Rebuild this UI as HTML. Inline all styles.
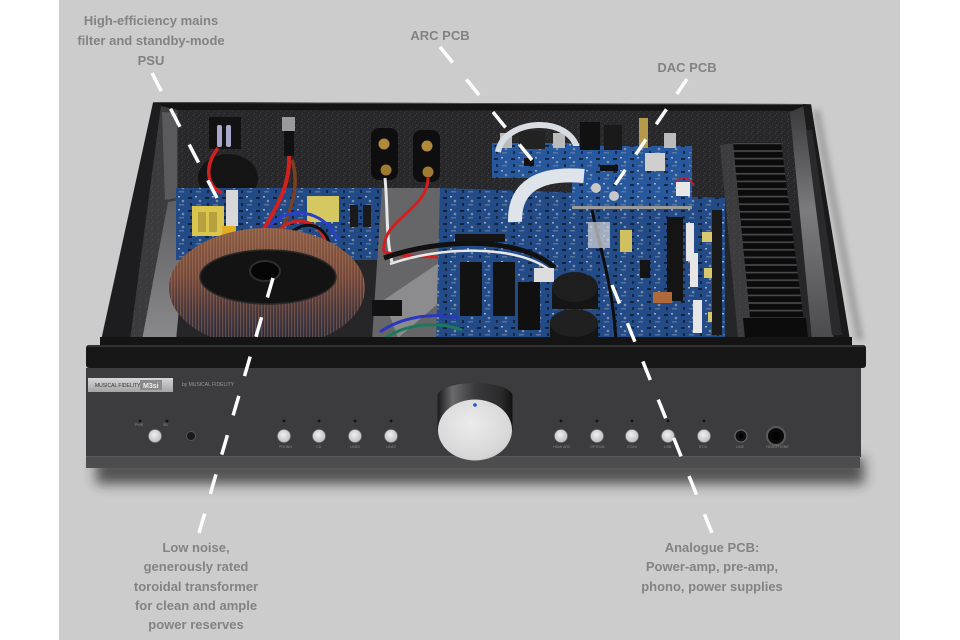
<!DOCTYPE html>
<html>
<head>
<meta charset="utf-8">
<style>
  html,body{margin:0;padding:0;background:#fff;}
  body{width:960px;height:640px;overflow:hidden;position:relative;}
  svg{position:absolute;left:0;top:0;}
  .lbl{font-family:"Liberation Sans",Arial,sans-serif;font-weight:bold;font-size:13px;fill:#838383;}
  .tiny{font-family:"Liberation Sans",Arial,sans-serif;font-size:3.6px;fill:#8a8a8a;}
</style>
</head>
<body>
<svg width="960" height="640" viewBox="0 0 960 640" xmlns="http://www.w3.org/2000/svg">
  <defs>
    <filter id="blur6" x="-20%" y="-100%" width="140%" height="300%"><feGaussianBlur stdDeviation="6"/></filter>
    <filter id="blur3" x="-20%" y="-20%" width="140%" height="140%"><feGaussianBlur stdDeviation="3"/></filter>
    <pattern id="fins" width="12" height="7.6" patternUnits="userSpaceOnUse">
      <rect width="12" height="7.6" fill="#0b0b0c"/>
      <rect y="5.8" width="12" height="1.6" fill="#4a4a4c"/>
    </pattern>
    <pattern id="comp" width="17" height="13" patternUnits="userSpaceOnUse">
      <rect x="1" y="2" width="4" height="2" fill="#111" opacity="0.7"/>
      <rect x="8" y="1" width="2" height="1.5" fill="#d8d8d8" opacity="0.7"/>
      <circle cx="13" cy="6" r="1.3" fill="#b8b8b8" opacity="0.6"/>
      <rect x="3" y="8" width="2" height="3" fill="#0e0e0e" opacity="0.6"/>
      <rect x="9" y="9" width="5" height="1.5" fill="#7a8aa8" opacity="0.6"/>
    </pattern>
    <pattern id="grain" width="6" height="6" patternUnits="userSpaceOnUse">
      <rect x="1" y="1" width="1" height="1" fill="#555" opacity="0.5"/>
      <rect x="4" y="3" width="1" height="1" fill="#444" opacity="0.5"/>
      <rect x="2" y="5" width="1" height="1" fill="#666" opacity="0.4"/>
    </pattern>
    <pattern id="wind" width="3" height="4" patternUnits="userSpaceOnUse">
      <rect width="1.2" height="4" fill="#c08a68" opacity="0.35"/>
    </pattern>
    <linearGradient id="rwall" x1="0" y1="0" x2="0" y2="1">
      <stop offset="0" stop-color="#3a3a3c"/>
      <stop offset="0.45" stop-color="#7c7c7e"/>
      <stop offset="1" stop-color="#4a4a4c"/>
    </linearGradient>
    <linearGradient id="lfloor" x1="0" y1="0" x2="0" y2="1">
      <stop offset="0" stop-color="#5e5e60"/>
      <stop offset="1" stop-color="#8a8a8c"/>
    </linearGradient>
    <linearGradient id="copper" x1="0" y1="0" x2="0" y2="1">
      <stop offset="0" stop-color="#8a5c44"/>
      <stop offset="0.4" stop-color="#74483a"/>
      <stop offset="0.7" stop-color="#43343a"/>
      <stop offset="1" stop-color="#23283a"/>
    </linearGradient>
    <linearGradient id="collar" x1="0" y1="0" x2="1" y2="0">
      <stop offset="0" stop-color="#1a1a1a"/>
      <stop offset="0.2" stop-color="#6a6a6c"/>
      <stop offset="0.5" stop-color="#3a3a3c"/>
      <stop offset="0.85" stop-color="#2a2a2a"/>
      <stop offset="1" stop-color="#111"/>
    </linearGradient>
    <radialGradient id="knobface" cx="0.45" cy="0.4" r="0.7">
      <stop offset="0" stop-color="#ececec"/>
      <stop offset="0.8" stop-color="#d6d6d6"/>
      <stop offset="1" stop-color="#b8b8b8"/>
    </radialGradient>
    <linearGradient id="plate" x1="0" y1="0" x2="0" y2="1">
      <stop offset="0" stop-color="#d6d6d6"/>
      <stop offset="1" stop-color="#a4a4a4"/>
    </linearGradient>
    <radialGradient id="btn" cx="0.45" cy="0.4" r="0.6">
      <stop offset="0" stop-color="#f0f0f0"/>
      <stop offset="1" stop-color="#bdbdbd"/>
    </radialGradient>
  </defs>

  <!-- background -->
  <rect x="0" y="0" width="960" height="640" fill="#ffffff"/>
  <rect x="59" y="0" width="841" height="640" fill="#cbcccb"/>

  <!-- shadows -->
  <rect x="96" y="458" width="768" height="26" fill="#2a2a2a" opacity="0.75" filter="url(#blur6)"/>
  <polygon points="812,110 856,340 864,340 820,110" fill="#555" opacity="0.35" filter="url(#blur3)"/>

  <!-- interior base -->
  <polygon points="153,103 811,105 850,345 100,345" fill="#262628"/>

  <!-- back rim -->
  <polygon points="153,102 811,104 812,111 156,110" fill="#141414"/>
  <line x1="153" y1="102.5" x2="811" y2="104.5" stroke="#4a4a4a" stroke-width="1"/>

  <!-- back wall -->
  <polygon points="160,110 805,111 800,210 170,210" fill="#28282a"/>
  <polygon points="160,110 805,111 800,210 170,210" fill="url(#grain)"/>

  <!-- left wall -->
  <polygon points="153,103 161,104 130,340 102,340" fill="#1d1d1f"/>
  <polygon points="161,106 178,110 178,200 168,204 142,340 130,340" fill="#3b3b3d"/>
  <polygon points="161,106 178,110 178,200 168,204 142,340 130,340" fill="url(#grain)"/>
  <polygon points="162,112 177,113 177,198 165,200" fill="#5a5a5c"/>
  <polygon points="168,202 190,198 176,340 142,340" fill="url(#lfloor)"/>

  <!-- right wall -->
  <polygon points="790,112 804,106 834,340 812,340" fill="url(#rwall)"/>
  <polygon points="803,104 811,105 850,340 834,340" fill="#1a1a1b"/>
  <polygon points="806,130 812,130 842,335 832,335" fill="#2a2a2c"/>

  <!-- heatsink -->
  <polygon points="720,145 736,143 755,338 738,338" fill="#3c3c3e"/>
  <polygon points="720,145 736,143 755,338 738,338" fill="url(#grain)"/>
  <polygon points="733,142 781,142 806,338 752,338" fill="url(#fins)"/>
  <polygon points="743,318 806,318 808,338 745,338" fill="#0c0c0c"/>

  <!-- back panel items -->
  <rect x="209" y="117" width="32" height="32" fill="#121212"/>
  <rect x="217" y="125" width="5" height="22" rx="2" fill="#a8a8cc"/>
  <rect x="226" y="125" width="5" height="22" rx="2" fill="#a8a8cc"/>
  <ellipse cx="228" cy="178" rx="30" ry="24" fill="#141414"/>
  <rect x="282" y="117" width="13" height="14" fill="#9a9a9a"/>
  <rect x="284" y="131" width="10" height="25" fill="#111"/>
  <rect x="371" y="128" width="27" height="52" rx="8" fill="#0e0e0e"/>
  <rect x="413" y="130" width="27" height="52" rx="8" fill="#0e0e0e"/>
  <circle cx="384" cy="144" r="5.5" fill="#b08a3a"/>
  <circle cx="386" cy="170" r="5.5" fill="#a07a30"/>
  <circle cx="427" cy="146" r="5.5" fill="#b08a3a"/>
  <circle cx="428" cy="172" r="5.5" fill="#a07a30"/>

  <!-- PSU board -->
  <rect x="176" y="188" width="206" height="72" fill="#224a86"/>
  <rect x="176" y="188" width="206" height="72" fill="url(#comp)"/>
  <rect x="192" y="206" width="32" height="30" fill="#d8c64e"/>
  <rect x="198" y="212" width="8" height="20" fill="#b8a040"/>
  <rect x="209" y="212" width="8" height="20" fill="#b8a040"/>
  <rect x="222" y="226" width="14" height="12" fill="#e0b020"/>
  <rect x="226" y="190" width="12" height="36" fill="#d8d8d8"/>
  <rect x="307" y="196" width="32" height="26" fill="#d6c860"/>
  <rect x="350" y="205" width="8" height="22" fill="#1a1a1a"/>
  <rect x="363" y="205" width="8" height="22" fill="#1a1a1a"/>

  <!-- wires near PSU -->
  <path d="M218 148 C 205 165, 205 185, 222 193" stroke="#d02020" stroke-width="3.5" fill="none"/>
  <path d="M289 156 C 290 185, 278 205, 262 232" stroke="#d02020" stroke-width="4" fill="none"/>
  <path d="M292 160 C 300 185, 292 210, 278 238" stroke="#7a4020" stroke-width="3.5" fill="none"/>
  <path d="M260 250 C 265 205, 320 200, 338 240" stroke="#2a40c8" stroke-width="3" fill="none"/>
  <path d="M270 250 C 275 215, 315 212, 325 240" stroke="#d02020" stroke-width="3" fill="none"/>
  <path d="M282 245 C 300 212, 330 225, 330 250" stroke="#101010" stroke-width="3" fill="none"/>

  <!-- middle floor -->
  <polygon points="382,188 440,188 440,340 372,340" fill="#666668"/>
  <polygon points="384,300 440,262 454,290 398,338" fill="#8c8c8e"/>
  <rect x="372" y="300" width="30" height="16" fill="#111"/>
  <path d="M385 178 C 388 210, 386 240, 392 262" stroke="#e8e8e8" stroke-width="3" fill="none"/>
  <path d="M428 178 C 428 210, 380 220, 384 252 C 420 262, 500 252, 540 262" stroke="#d02020" stroke-width="3" fill="none"/>

  <!-- main analogue board -->
  <polygon points="440,188 725,198 725,340 436,340" fill="#234b88"/>
  <polygon points="440,188 725,198 725,340 436,340" fill="url(#comp)"/>
  <rect x="455" y="234" width="50" height="8" fill="#151515"/>
  <path d="M384 258 C 440 238, 520 236, 555 268" stroke="#111" stroke-width="5" fill="none"/>
  <path d="M390 264 C 440 246, 520 244, 552 272" stroke="#e8e8e8" stroke-width="2.5" fill="none"/>
  <rect x="460" y="262" width="22" height="54" fill="#121212"/>
  <rect x="493" y="262" width="22" height="54" fill="#121212"/>
  <rect x="518" y="282" width="22" height="48" fill="#101010"/>
  <rect x="534" y="268" width="20" height="14" fill="#dcdcdc"/>
  <rect x="552" y="287" width="46" height="22" fill="#151515"/>
  <ellipse cx="575" cy="287" rx="23" ry="15" fill="#1e1e1e"/>
  <rect x="550" y="323" width="48" height="17" fill="#151515"/>
  <ellipse cx="574" cy="323" rx="24" ry="14" fill="#202020"/>
  <path d="M592 210 C 600 250, 612 280, 616 340" stroke="#0e0e0e" stroke-width="3" fill="none"/>
  <path d="M380 332 C 400 318, 430 312, 458 318" stroke="#2a38c0" stroke-width="3" fill="none"/>
  <path d="M385 338 C 410 322, 440 322, 462 330" stroke="#1a7a5a" stroke-width="3" fill="none"/>
  <rect x="588" y="222" width="22" height="26" fill="#d8d8d8" opacity="0.7"/>
  <rect x="620" y="230" width="12" height="22" fill="#d0c060"/>
  <rect x="640" y="260" width="10" height="18" fill="#141414"/>
  <!-- right component strip -->
  <rect x="667" y="217" width="16" height="84" fill="#141414"/>
  <rect x="686" y="223" width="8" height="38" fill="#e6e6e6"/>
  <rect x="690" y="253" width="8" height="34" fill="#e6e6e6"/>
  <rect x="693" y="300" width="9" height="33" fill="#e6e6e6"/>
  <rect x="702" y="232" width="11" height="10" fill="#d8c870"/>
  <rect x="704" y="268" width="10" height="10" fill="#d8c870"/>
  <rect x="708" y="312" width="11" height="10" fill="#d8c870"/>
  <rect x="653" y="292" width="19" height="11" fill="#b06a3a"/>
  <rect x="712" y="210" width="10" height="125" fill="#1a1a1a"/>

  <!-- ARC board -->
  <rect x="492" y="143" width="88" height="35" fill="#27579c"/>
  <rect x="492" y="143" width="88" height="35" fill="url(#comp)"/>
  <rect x="500" y="133" width="12" height="15" fill="#bbbbbb"/>
  <rect x="519" y="131" width="26" height="18" fill="#222"/>
  <rect x="553" y="133" width="12" height="15" fill="#bbbbbb"/>
  <rect x="524" y="158" width="10" height="8" fill="#111"/>
  <path d="M498 152 C 504 118, 572 114, 578 152" stroke="#d8dde4" stroke-width="6" fill="none"/>

  <!-- DAC board -->
  <rect x="572" y="146" width="120" height="62" fill="#27579c"/>
  <rect x="572" y="146" width="120" height="62" fill="url(#comp)"/>
  <rect x="572" y="206" width="120" height="3" fill="#9a9a9a"/>
  <rect x="580" y="122" width="20" height="28" fill="#111"/>
  <rect x="604" y="125" width="18" height="25" fill="#1a1a1a"/>
  <rect x="639" y="118" width="9" height="30" fill="#b59a4a"/>
  <rect x="664" y="133" width="12" height="15" fill="#bbbbbb"/>
  <rect x="645" y="153" width="20" height="18" fill="#cfcfcf"/>
  <rect x="600" y="165" width="18" height="6" fill="#111"/>
  <circle cx="596" cy="188" r="5" fill="#c8c8c8"/>
  <circle cx="614" cy="196" r="5" fill="#c8c8c8"/>
  <rect x="676" y="182" width="14" height="14" fill="#e8e8e8"/>
  <path d="M676 182 C 680 176, 690 176, 694 186" stroke="#d02020" stroke-width="1.5" fill="none"/>
  <path d="M515 222 C 514 186, 540 172, 584 176" stroke="#dfe3ea" stroke-width="14" fill="none"/>

  <!-- toroid -->
  <ellipse cx="267" cy="288" rx="98" ry="60" fill="url(#copper)"/>
  <ellipse cx="267" cy="288" rx="98" ry="60" fill="url(#wind)"/>
  <ellipse cx="268" cy="277" rx="68" ry="27" fill="#131313"/>
  <ellipse cx="268" cy="277" rx="68" ry="27" fill="none" stroke="#2a2a2a" stroke-width="1.5"/>
  <ellipse cx="265" cy="271" rx="15" ry="10" fill="#050505" stroke="#2e2e2e" stroke-width="2"/>

  <!-- front lip over interior -->
  <rect x="100" y="337" width="752" height="9" fill="#141414"/>

  <!-- front panel -->
  <rect x="86" y="345" width="780" height="23" rx="3" fill="#171718"/>
  <line x1="88" y1="346" x2="864" y2="346" stroke="#3a3a3a" stroke-width="1.5"/>
  <rect x="86" y="368" width="775" height="89" fill="#3c3c3e"/>
  <rect x="86" y="456" width="774" height="12" fill="#4d4d4f"/>
  <line x1="86" y1="456.5" x2="860" y2="456.5" stroke="#5a5a5c" stroke-width="1"/>

  <!-- logo -->
  <rect x="88" y="378" width="85" height="14" fill="url(#plate)"/>
  <text x="95" y="387" class="tiny" style="fill:#333;font-size:5px;">MUSICAL FIDELITY</text>
  <rect x="140" y="380" width="22" height="10" fill="#8a8a8a"/>
  <text x="143" y="388" class="tiny" style="fill:#eee;font-size:7px;font-weight:bold;">M3si</text>
  <text x="182" y="386" class="tiny" style="font-size:5px;fill:#9a9a9a;">by MUSICAL FIDELITY</text>

  <!-- knob -->
  <ellipse cx="475" cy="396" rx="37.5" ry="13" fill="url(#collar)"/>
  <rect x="437.5" y="396" width="75" height="34" fill="url(#collar)"/>
  <ellipse cx="475" cy="430" rx="37" ry="30.5" fill="url(#knobface)"/>
  <circle cx="475" cy="405" r="1.8" fill="#2050d0"/>

  <!-- LEDs -->
  <g fill="#111">
    <circle cx="140" cy="421" r="1.4"/><circle cx="167" cy="421" r="1.4"/>
    <circle cx="284" cy="421" r="1.4"/><circle cx="319" cy="421" r="1.4"/>
    <circle cx="355" cy="421" r="1.4"/><circle cx="391" cy="421" r="1.4"/>
    <circle cx="561" cy="421" r="1.4"/><circle cx="597" cy="421" r="1.4"/>
    <circle cx="632" cy="421" r="1.4"/><circle cx="668" cy="421" r="1.4"/>
    <circle cx="704" cy="421" r="1.4"/>
  </g>
  <!-- buttons -->
  <g fill="url(#btn)" stroke="#777" stroke-width="0.6">
    <circle cx="155" cy="436" r="6.5"/>
    <circle cx="284" cy="436" r="6.5"/><circle cx="319" cy="436" r="6.5"/>
    <circle cx="355" cy="436" r="6.5"/><circle cx="391" cy="436" r="6.5"/>
    <circle cx="561" cy="436" r="6.5"/><circle cx="597" cy="436" r="6.5"/>
    <circle cx="632" cy="436" r="6.5"/><circle cx="668" cy="436" r="6.5"/>
    <circle cx="704" cy="436" r="6.5"/>
  </g>
  <!-- jacks -->
  <circle cx="191" cy="436" r="4.5" fill="#1a1a1a" stroke="#555" stroke-width="1"/>
  <circle cx="741" cy="436" r="6" fill="#101010" stroke="#666" stroke-width="1.2"/>
  <circle cx="741" cy="436" r="2.5" fill="#000"/>
  <circle cx="776" cy="436" r="9" fill="#0a0a0a" stroke="#5a5a5a" stroke-width="2"/>
  <circle cx="776" cy="436" r="4" fill="#000"/>

  <!-- tiny front labels -->
  <text x="135" y="426" class="tiny">PWR</text>
  <text x="163" y="426" class="tiny">SB</text>
  <text x="279" y="448" class="tiny">PHONO</text>
  <text x="316" y="448" class="tiny">CD</text>
  <text x="350" y="448" class="tiny">LINE1</text>
  <text x="386" y="448" class="tiny">LINE2</text>
  <text x="553" y="448" class="tiny">HDMI ARC</text>
  <text x="590" y="448" class="tiny">OPTICAL</text>
  <text x="627" y="448" class="tiny">COAX</text>
  <text x="664" y="448" class="tiny">USB</text>
  <text x="699" y="448" class="tiny">BT/A</text>
  <text x="736" y="448" class="tiny">LINE</text>
  <text x="766" y="448" class="tiny">HEADPHONE</text>

  <!-- annotation leaders -->
  <g stroke="#ffffff" stroke-width="3.5" fill="none">
    <line x1="152" y1="73" x2="217" y2="198" stroke-dasharray="20.3 20"/>
    <line x1="440" y1="47" x2="532" y2="160" stroke-dasharray="20 21.9"/>
    <line x1="687" y1="79" x2="615" y2="185" stroke-dasharray="18.1 18.5"/>
    <line x1="273" y1="278" x2="199" y2="533" stroke-dasharray="20.3 20.6"/>
    <line x1="612" y1="285" x2="712" y2="533" stroke-dasharray="20 21.2"/>
  </g>

  <!-- labels -->
  <g class="lbl" text-anchor="middle">
    <text x="151" y="25">High-efficiency mains</text>
    <text x="151" y="45">filter and standby-mode</text>
    <text x="151" y="65">PSU</text>
    <text x="440" y="40">ARC PCB</text>
    <text x="687" y="72">DAC PCB</text>
    <text x="196" y="552">Low noise,</text>
    <text x="196" y="571">generously rated</text>
    <text x="196" y="591">toroidal transformer</text>
    <text x="196" y="610">for clean and ample</text>
    <text x="196" y="629">power reserves</text>
    <text x="712" y="552">Analogue PCB:</text>
    <text x="712" y="571">Power-amp, pre-amp,</text>
    <text x="712" y="591">phono, power supplies</text>
  </g>
</svg>
</body>
</html>
